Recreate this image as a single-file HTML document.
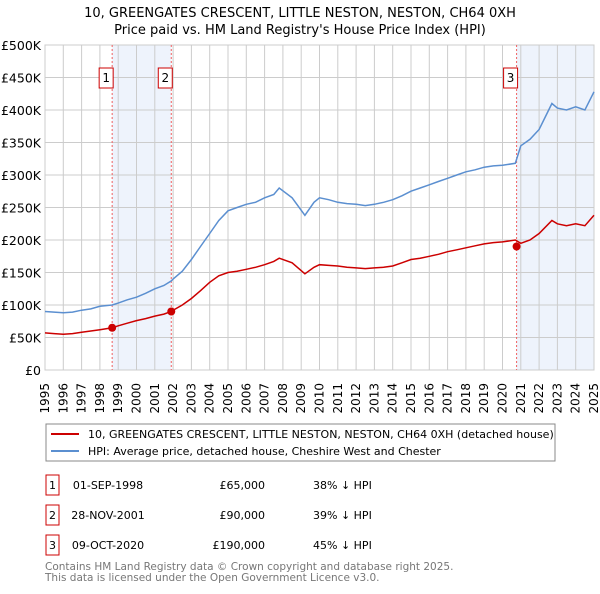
<!DOCTYPE html>
<html><head><meta charset="utf-8"><style>
body{margin:0;background:#fff;font-family:"DejaVu Sans","Liberation Sans",sans-serif;}
svg text{font-family:"DejaVu Sans","Liberation Sans",sans-serif;}
</style></head><body>
<svg id="chart" width="600" height="590" xmlns="http://www.w3.org/2000/svg">
<text x="300" y="17" text-anchor="middle" font-size="13">10, GREENGATES CRESCENT, LITTLE NESTON, NESTON, CH64 0XH</text>
<text x="300" y="34" text-anchor="middle" font-size="13">Price paid vs. HM Land Registry's House Price Index (HPI)</text>
<g id="plot"></g>
<g>
<rect x="46" y="424" width="509" height="37" fill="#fff" stroke="#888"/>
<line x1="51" y1="434" x2="79" y2="434" stroke="#cc0000" stroke-width="2"/>
<text x="88" y="438" font-size="11">10, GREENGATES CRESCENT, LITTLE NESTON, NESTON, CH64 0XH (detached house)</text>
<line x1="51" y1="451" x2="79" y2="451" stroke="#5b8fd0" stroke-width="2"/>
<text x="88" y="455" font-size="11">HPI: Average price, detached house, Cheshire West and Chester</text>
</g>
<g font-size="11">
<rect x="46" y="475" width="13" height="20" fill="#fff" stroke="#cc0000"/><text x="52.5" y="489" text-anchor="middle">1</text>
<text x="108" y="489" text-anchor="middle">01-SEP-1998</text><text x="265" y="489" text-anchor="end">£65,000</text><text x="313" y="489">38% ↓ HPI</text>
<rect x="46" y="505" width="13" height="20" fill="#fff" stroke="#cc0000"/><text x="52.5" y="519" text-anchor="middle">2</text>
<text x="108" y="519" text-anchor="middle">28-NOV-2001</text><text x="265" y="519" text-anchor="end">£90,000</text><text x="313" y="519">39% ↓ HPI</text>
<rect x="46" y="535" width="13" height="20" fill="#fff" stroke="#cc0000"/><text x="52.5" y="549" text-anchor="middle">3</text>
<text x="108" y="549" text-anchor="middle">09-OCT-2020</text><text x="265" y="549" text-anchor="end">£190,000</text><text x="313" y="549">45% ↓ HPI</text>
</g>
<text x="45" y="570" font-size="10.5" fill="#777">Contains HM Land Registry data © Crown copyright and database right 2025.</text>
<text x="45" y="581" font-size="10.5" fill="#777">This data is licensed under the Open Government Licence v3.0.</text>
</svg>
<script>
const years=[1995,1995.5,1996,1996.5,1997,1997.5,1998,1998.67,1999,1999.5,2000,2000.5,2001,2001.5,2001.9,2002,2002.5,2003,2003.5,2004,2004.5,2005,2005.5,2006,2006.5,2007,2007.5,2007.8,2008.5,2009.2,2009.7,2010,2010.5,2011,2011.5,2012,2012.5,2013,2013.5,2014,2014.5,2015,2015.5,2016,2016.5,2017,2017.5,2018,2018.5,2019,2019.5,2020,2020.7,2021,2021.5,2022,2022.7,2023,2023.5,2024,2024.5,2025];
const hpiValues=[90,89,88,89,92,94,98,100,103,108,112,118,125,130,137,140,152,170,190,210,230,245,250,255,258,265,270,280,265,238,258,265,262,258,256,255,253,255,258,262,268,275,280,285,290,295,300,305,308,312,314,315,318,345,355,370,410,403,400,405,400,428];
const redValues=[57,56,55,56,58,60,62,65,68,72,76,79,83,86,90,92,100,110,122,135,145,150,152,155,158,162,167,172,165,148,158,162,161,160,158,157,156,157,158,160,165,170,172,175,178,182,185,188,191,194,196,197,200,195,200,210,230,225,222,225,222,238];
const yTicks=[0,50,100,150,200,250,300,350,400,450,500];
const yTickLabels=["£0","£50K","£100K","£150K","£200K","£250K","£300K","£350K","£400K","£450K","£500K"];
const saleYears=[1998.67,2001.9,2020.77];
const saleValues=[65,90,190];
const saleLabels=["1","2","3"];
const X0=45,X1=594,Y0=370,Y1=45;
const xs=y=>X0+(y-1995)/30*(X1-X0);
const ys=v=>Y0-v/500*(Y0-Y1);
const NS="http://www.w3.org/2000/svg";
const g=document.getElementById('plot');
function mk(t,a){const e=document.createElementNS(NS,t);for(const k in a)e.setAttribute(k,a[k]);g.appendChild(e);return e;}
let r=mk('rect',{x:xs(saleYears[0]),y:Y1,width:xs(saleYears[1])-xs(saleYears[0]),height:Y0-Y1,fill:'#eef3fc'});


r=mk('rect',{x:xs(saleYears[2]),y:Y1,width:X1-xs(saleYears[2]),height:Y0-Y1,fill:'#eef3fc'});


for(let yr=1995;yr<=2025;yr++){
 const l=mk('line',{x1:xs(yr),x2:xs(yr),y1:Y1,y2:Y0,stroke:'#ccc'});
 
 
 const t=mk('text',{x:0,y:0,'font-size':12,'text-anchor':'end',transform:`translate(${xs(yr)+4},${Y0+13}) rotate(-90)`});
 t.textContent=yr;
 
 
}
yTicks.forEach((v,i)=>{
 const l=mk('line',{x1:X0,x2:X1,y1:ys(v),y2:ys(v),stroke:'#ccc'});
 
 
 const t=mk('text',{x:X0-4,y:ys(v)+5,'font-size':12.5,'text-anchor':'end'});
 t.textContent=yTickLabels[i];
 
 
});
const fr=mk('rect',{x:X0,y:Y1,width:X1-X0,height:Y0-Y1,fill:'none',stroke:'#ccc'});


saleYears.forEach((s,i)=>{
 const l=mk('line',{x1:xs(s),x2:xs(s),y1:Y1,y2:Y0,stroke:'#f06060','stroke-dasharray':'2,2'});
 
 
 const b=mk('rect',{x:xs(s)-13,y:68,width:14,height:20,fill:'#fff',stroke:'#cc0000'});
 
 
 const t=mk('text',{x:xs(s)-6,y:82,'font-size':12,'text-anchor':'middle'});
 t.textContent=saleLabels[i];
 
 
});
function path(vals,col,name){
 const d=years.map((y,i)=>(i?'L':'M')+xs(y).toFixed(1)+','+ys(vals[i]).toFixed(1)).join('');
 const p=mk('path',{d:d,fill:'none',stroke:col,'stroke-width':1.5});
 
 
}
path(hpiValues,'#5b8fd0','hpi-line');
path(redValues,'#cc0000','property-price-line');
saleYears.forEach((s,i)=>{
 const c=mk('circle',{cx:xs(s),cy:ys(saleValues[i]),r:4,fill:'#cc0000'});
 
 
});
</script>
</body></html>
